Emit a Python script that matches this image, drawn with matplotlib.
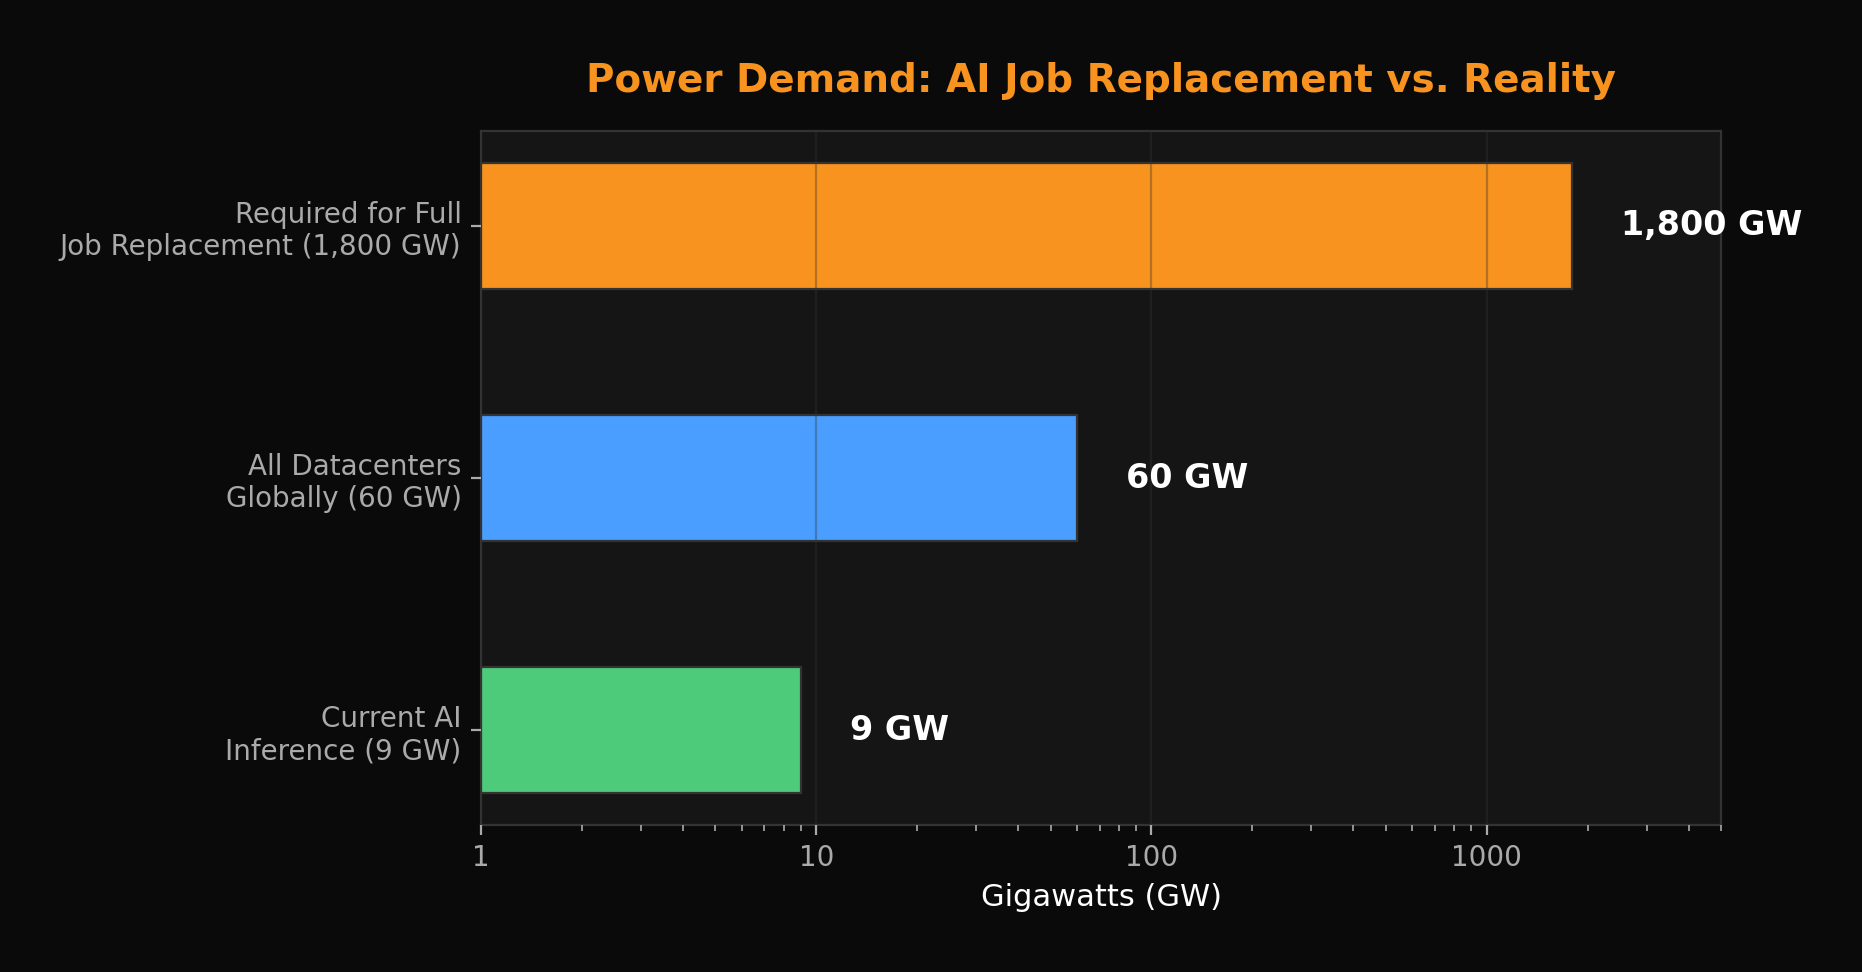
import matplotlib
matplotlib.use("Agg")
import matplotlib.pyplot as plt

labels = ["Current AI\nInference (9 GW)",
          "All Datacenters\nGlobally (60 GW)",
          "Required for Full\nJob Replacement (1,800 GW)"]
values = [9, 60, 1800]
value_text = ["9 GW", "60 GW", "1,800 GW"]
colors = ["#4ecb7a", "#4a9eff", "#f7931e"]

fig = plt.figure(figsize=(9.31, 4.861), dpi=200, facecolor="#0a0a0a")
ax = fig.add_axes([0.2583, 0.1515, 0.666, 0.7135])
ax.set_facecolor("#151515")

ypos = range(len(values))
ax.barh(ypos, values, height=0.5, color=colors, edgecolor="#333333", linewidth=0.8)
ax.set_xscale("log")
ax.set_xlim(1, 5000)

for y, v, t in zip(ypos, values, value_text):
    ax.text(v * 1.4, y, t, color="white", fontsize=12, fontweight="bold",
            va="center", ha="left")

ax.set_yticks(list(ypos))
ax.set_yticklabels(labels)
ax.set_xticks([1, 10, 100, 1000])
ax.set_xticklabels(["1", "10", "100", "1000"])
ax.tick_params(axis="both", colors="#aaaaaa", labelsize=10)
ax.tick_params(axis="x", which="minor", colors="#aaaaaa")

ax.set_xlabel("Gigawatts (GW)", color="white", fontsize=11)
ax.set_title("Power Demand: AI Job Replacement vs. Reality", color="#f7931e",
             fontsize=14, fontweight="bold", pad=14)

ax.grid(axis="x", which="major", color="#333333", alpha=0.35, linewidth=0.8)
ax.set_axisbelow(False)
for s in ax.spines.values():
    s.set_color("#333333")

fig.savefig("out.png", dpi=200, facecolor=fig.get_facecolor())
